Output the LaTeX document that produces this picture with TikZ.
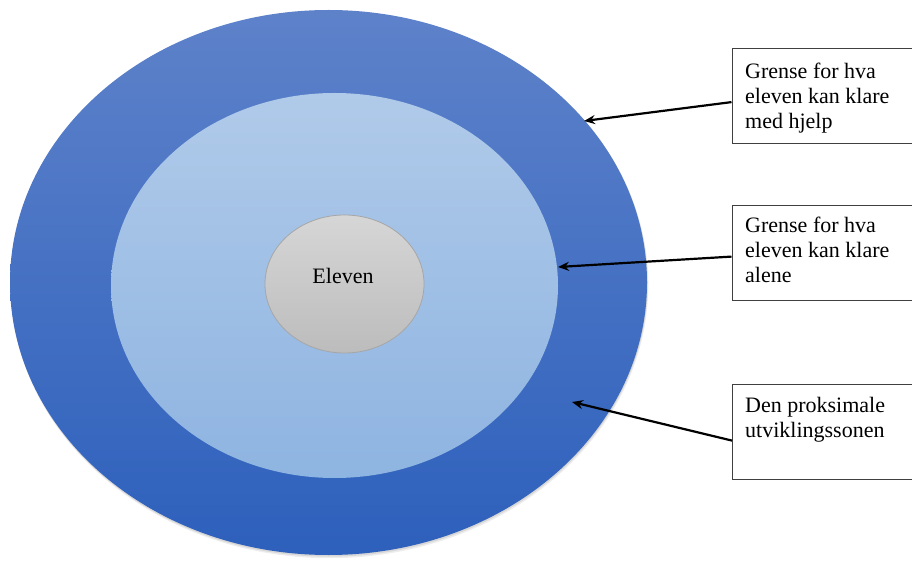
\documentclass[tikz,border=0pt]{standalone}
\usepackage{fontspec}
\setmainfont{Liberation Serif}
\usetikzlibrary{shapes.geometric,arrows.meta}
\definecolor{outerTop}{HTML}{5E82CA}
\definecolor{outerBot}{HTML}{2D60BC}
\definecolor{midTop}{HTML}{B0CAE9}
\definecolor{midBot}{HTML}{8EB4E1}
\definecolor{innTop}{HTML}{D6D6D6}
\definecolor{innBot}{HTML}{BCBCBC}
\definecolor{innLine}{HTML}{A6A6A6}
\definecolor{boxLine}{HTML}{404040}
\begin{document}
\begin{tikzpicture}[x=1pt,y=1pt,
  zone/.style={ellipse, inner sep=0pt, outer sep=0pt},
  labelbox/.style={rectangle, draw=boxLine, line width=1.2pt, minimum width=184pt, minimum height=95pt, inner sep=0pt, anchor=north west},
  labeltext/.style={anchor=north west, inner sep=0pt, align=left, font=\fontsize{22}{25}\selectfont},
  pointer/.style={line width=2.2pt, -{Stealth[length=11pt,width=9pt]}}
]
\useasboundingbox (0,0) rectangle (912,560);
\clip (0,0) rectangle (912,560);
\fill[white] (0,0) rectangle (912,560);
% soft shadow under the outer ellipse
\fill[black, opacity=0.07] (329.5,275.3) ellipse [x radius=318.8, y radius=273.5];
\fill[black, opacity=0.09] (329,276.3) ellipse [x radius=318.6, y radius=273];
% zones
\node[zone, minimum width=637pt, minimum height=545pt, top color=outerTop, bottom color=outerBot] (outer) at (328.5,277.5) {};
\node[zone, minimum width=447pt, minimum height=385pt, top color=midTop, bottom color=midBot] (middle) at (334.5,274.5) {};
\node[zone, draw=innLine, line width=0.8pt, minimum width=159pt, minimum height=138pt, top color=innTop, bottom color=innBot] (inner) at (344.5,276) {};
\node[anchor=base, inner sep=0pt, font=\fontsize{22}{25}\selectfont] (eleven) at (343,276) {Eleven};
% label boxes
\node[labelbox] (box1) at (731.5,512) {};
\node[labelbox] (box2) at (731.5,355) {};
\node[labelbox] (box3) at (732,176) {};
\node[labeltext] (text1) at (745,497) {Grense for hva\\eleven kan klare\\med hjelp};
\node[labeltext] (text2) at (745,343) {Grense for hva\\eleven kan klare\\alene};
\node[labeltext] (text3) at (745,163) {Den proksimale\\utviklingssonen};
% arrow tips
\coordinate (tip1) at (584,439);
\coordinate (tip2) at (558,293);
\coordinate (tip3) at (572,158);
\draw[pointer] ([yshift=-6pt]box1.west) -- (tip1);
\draw[pointer] ([yshift=-3.5pt]box2.west) -- (tip2);
\draw[pointer] ([yshift=-8.5pt]box3.west) -- (tip3);
\end{tikzpicture}
\end{document}
